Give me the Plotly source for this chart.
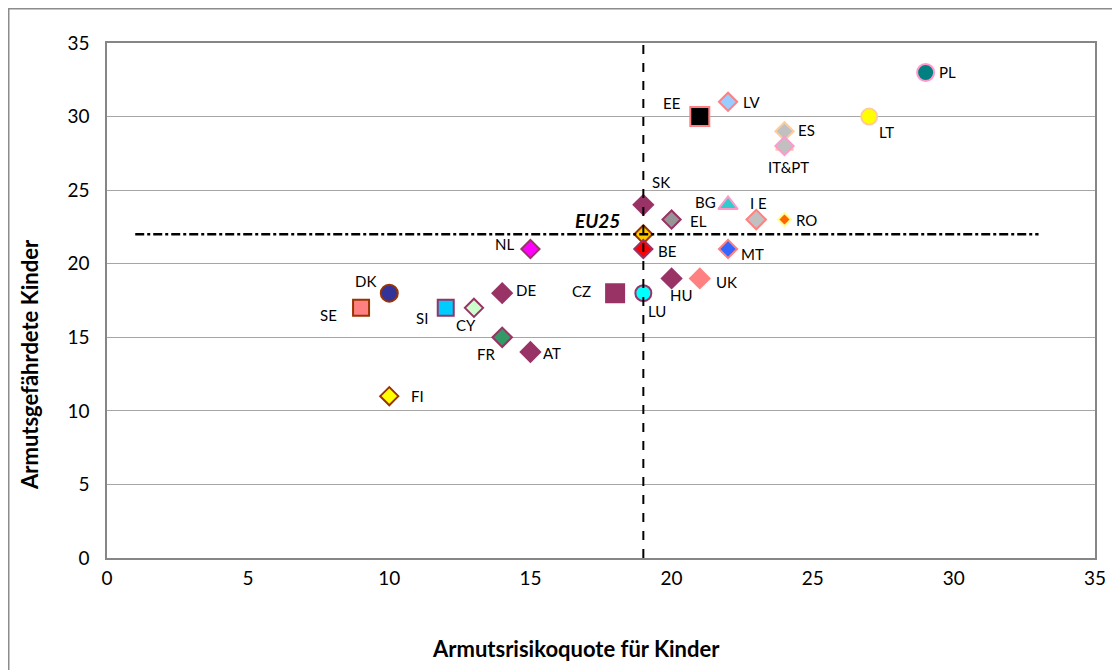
import plotly.graph_objects as go

# ---- data ----
countries = ["PL", "LT", "EE", "LV", "ES", "IT", "PT", "SK", "BG", "EL", "I E", "RO",
             "EU25", "BE", "MT", "NL", "HU", "UK", "CZ", "LU", "DK", "DE", "SE", "SI",
             "CY", "FR", "AT", "FI"]
risk_rate = [29, 27, 21, 22, 24, 24, 24, 19, 22, 20, 23, 24,
             19, 19, 22, 15, 20, 21, 18, 19, 10, 14, 9, 12,
             13, 14, 15, 10]
children_at_risk = [33, 30, 30, 31, 29, 28, 28, 24, 24, 23, 23, 23,
                    22, 21, 21, 21, 19, 19, 18, 18, 18, 18, 17, 17,
                    17, 15, 14, 11]
labels = {"IT": "", "PT": "IT&PT", "EU25": "<b><i>EU25</i></b>"}
eu_x_ref = [1, 33]
x_ticks = [0, 5, 10, 15, 20, 25, 30, 35]
y_ticks = [0, 5, 10, 15, 20, 25, 30, 35]
x_title = "Armutsrisikoquote für Kinder"
y_title = "Armutsgefährdete Kinder"

# ---- styles: symbol, size, fill, outline ----
style = {
    "PL": ("circle", 17, "#008080", "#FF99CC"),
    "LT": ("circle", 16, "#FFFF00", "#FFCC99"),
    "EE": ("square", 19, "#000000", "#FF8080"),
    "LV": ("diamond", 14, "#99CCFF", "#FF8080"),
    "ES": ("diamond", 14, "#C0C0C0", "#FFCC99"),
    "IT": ("triangle-up", 15, "#808080", "#FFCC99"),
    "PT": ("diamond", 14, "#C0C0C0", "#FF99CC"),
    "SK": ("diamond", 15, "#993366", "#993366"),
    "BG": ("triangle-up", 17, "#33CCCC", "#FF99CC"),
    "EL": ("diamond", 14, "#969696", "#993366"),
    "I E": ("diamond", 15, "#C0C0C0", "#FF8080"),
    "RO": ("diamond", 10, "#FF6600", "#FFFF99"),
    "EU25": ("diamond", 14, "#FFCC00", "#993300"),
    "BE": ("diamond", 14, "#FF0000", "#993366"),
    "MT": ("diamond", 14, "#3366FF", "#FF8080"),
    "NL": ("diamond", 14, "#FF00FF", "#993366"),
    "HU": ("diamond", 15, "#993366", "#993366"),
    "UK": ("diamond", 15, "#FF8080", "#FF8080"),
    "CZ": ("square", 18, "#993366", "#993366"),
    "LU": ("circle", 16, "#00FFFF", "#993366"),
    "DK": ("circle", 17, "#333399", "#993300"),
    "DE": ("diamond", 15, "#993366", "#993366"),
    "SE": ("square", 16, "#FF8080", "#993300"),
    "SI": ("square", 16, "#00CCFF", "#993366"),
    "CY": ("diamond", 14, "#CCFFCC", "#993366"),
    "FR": ("diamond", 15, "#339966", "#993366"),
    "AT": ("diamond", 15, "#993366", "#993366"),
    "FI": ("diamond", 14, "#FFFF00", "#993300"),
}
# label placement: anchor, dx (px), dy (px, downwards)
label_pos = {
    "PL": ("left", 11, 0), "LT": ("left", 8, 15), "EE": ("right", -18, -14),
    "LV": ("left", 13, 0), "ES": ("left", 12, -1), "IT": ("center", 0, 0),
    "PT": ("center", 4, 21), "SK": ("left", 7, -23), "BG": ("right", -10, -3),
    "EL": ("left", 16, 1), "I E": ("center", 2, -17), "RO": ("left", 10, 0),
    "EU25": ("right", -21, -14), "BE": ("left", 13, 2), "MT": ("left", 11, 5),
    "NL": ("right", -14, -5), "HU": ("center", 10, 17), "UK": ("left", 14, 4),
    "CZ": ("right", -22, -2), "LU": ("center", 14, 18), "DK": ("right", -11, -12),
    "DE": ("left", 12, -3), "SE": ("right", -22, 7), "SI": ("right", -16, 10),
    "CY": ("center", -8, 17), "FR": ("center", -16, 17), "AT": ("left", 11, 1),
    "FI": ("left", 20, 0),
}

FONT = "Lato, 'Open Sans', sans-serif"
fig = go.Figure()

for c, xv, yv in zip(countries, risk_rate, children_at_risk):
    sym, size, fill, outline = style[c]
    fig.add_trace(go.Scatter(
        x=[xv], y=[yv], mode="markers",
        marker=dict(symbol=sym, size=size, color=fill, line=dict(color=outline, width=2)),
        showlegend=False, hoverinfo="skip", cliponaxis=False,
    ))
    txt = labels.get(c, c)
    if txt:
        anchor, dx, dy = label_pos[c]
        fig.add_annotation(x=xv, y=yv, text=txt, showarrow=False,
                           xanchor=anchor, yanchor="middle", xshift=dx, yshift=-dy,
                           font=dict(family=FONT, size=19 if c == "EU25" else 15, color="#000000"))

eu_x = risk_rate[countries.index("EU25")]
eu_y = children_at_risk[countries.index("EU25")]

# EU25 reference lines
fig.add_trace(go.Scatter(x=eu_x_ref, y=[eu_y, eu_y], mode="lines",
                         line=dict(color="black", width=2.5, dash="dashdot"),
                         showlegend=False, hoverinfo="skip"))
fig.add_trace(go.Scatter(x=[eu_x, eu_x], y=[y_ticks[0], y_ticks[-1]], mode="lines",
                         line=dict(color="black", width=2, dash="dash"),
                         showlegend=False, hoverinfo="skip"))

W, H = 1112, 662
L, T, R, B = 99, 35, 25, 112
pw, ph = W - L - R, H - T - B
# outer chart border (top and left edges visible)
fig.add_shape(type="rect", xref="paper", yref="paper",
              x0=(0.75 - L) / pw, x1=1.1, y0=-0.3, y1=1 + (T - 0.75) / ph,
              line=dict(color="#8C8C8C", width=1.5), layer="below")

# axis titles
fig.add_annotation(xref="paper", yref="paper", x=(568 - L) / pw, y=-(90) / ph,
                   text="<b>" + x_title + "</b>", showarrow=False,
                   xanchor="center", yanchor="middle",
                   font=dict(family=FONT, size=22, color="#000000"))
fig.add_annotation(xref="paper", yref="paper", x=(21 - L) / pw, y=(550 - 357) / ph,
                   text="<b>" + y_title + "</b>", showarrow=False, textangle=-90,
                   xanchor="center", yanchor="middle",
                   font=dict(family=FONT, size=22, color="#000000"))

fig.update_layout(
    width=W, height=H,
    margin=dict(l=L, r=R, t=T, b=B),
    paper_bgcolor="white", plot_bgcolor="white",
    font=dict(family=FONT, color="#000000"),
    xaxis=dict(range=[0, 35], tickvals=x_ticks, showgrid=False, zeroline=False,
               showline=True, linecolor="#868686", linewidth=1.5, mirror=True,
               ticks="outside", ticklen=2, tickcolor="rgba(0,0,0,0)",
               tickfont=dict(size=19, family=FONT)),
    yaxis=dict(range=[0, 35], tickvals=y_ticks, showgrid=True, gridcolor="#A6A6A6", gridwidth=1,
               zeroline=False, showline=True, linecolor="#868686", linewidth=1.5, mirror=True,
               ticks="outside", ticklen=12, tickcolor="rgba(0,0,0,0)",
               tickfont=dict(size=19, family=FONT)),
)

fig.write_html("out.html")
